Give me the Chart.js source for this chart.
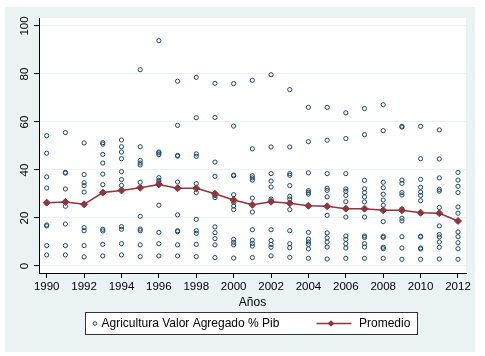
<!DOCTYPE html>
<html><head><meta charset="utf-8">
<script src="https://cdn.jsdelivr.net/npm/chart.js@4/dist/chart.umd.min.js"></script>
<style>html,body{margin:0;padding:0;background:#fff}canvas{display:block}</style>
</head><body>
<canvas id="c" width="485" height="356"></canvas>
<script>
const years = [1990,1991,1992,1993,1994,1995,1996,1997,1998,1999,2000,2001,2002,2003,2004,2005,2006,2007,2008,2009,2010,2011,2012];
const agricultura = [
  [54.3, 47.0, 37.1, 32.5, 17.1, 16.7, 8.5, 4.6],
  [55.6, 39.0, 38.7, 32.1, 24.9, 17.5, 8.5, 4.6],
  [51.3, 38.1, 34.7, 33.5, 30.8, 16.0, 14.7, 8.5, 3.8],
  [51.4, 50.8, 46.5, 42.9, 38.3, 33.9, 15.3, 14.6, 9.0, 4.2],
  [52.5, 49.7, 47.5, 44.7, 39.3, 36.0, 33.6, 16.4, 15.3, 9.3, 4.6],
  [81.8, 49.7, 44.0, 42.9, 42.1, 34.9, 20.7, 15.4, 14.7, 8.8, 3.9],
  [93.9, 47.5, 47.1, 46.4, 36.8, 35.7, 35.0, 25.3, 14.0, 9.3, 4.2],
  [77.0, 58.6, 46.1, 45.8, 35.0, 21.3, 14.7, 14.3, 8.8, 4.2],
  [78.6, 61.8, 46.7, 45.7, 34.3, 30.6, 19.4, 14.7, 13.6, 9.0, 3.9],
  [76.1, 61.9, 43.3, 37.4, 29.3, 28.5, 16.3, 13.9, 11.4, 8.8, 3.5],
  [76.0, 58.3, 37.9, 37.6, 29.7, 26.5, 25.0, 23.5, 11.1, 9.9, 8.8, 3.3],
  [77.4, 48.8, 37.6, 36.7, 35.8, 28.3, 22.5, 15.1, 10.8, 9.4, 8.3, 3.5],
  [79.7, 49.6, 38.5, 35.4, 32.9, 27.9, 26.7, 15.1, 10.6, 9.0, 7.8, 4.2],
  [73.5, 49.6, 38.5, 37.8, 33.5, 29.0, 27.9, 23.5, 14.7, 9.3, 7.6, 3.6],
  [66.1, 51.8, 38.8, 31.4, 30.7, 30.0, 25.1, 14.0, 11.2, 10.0, 9.0, 7.1, 3.2],
  [66.1, 52.4, 38.5, 32.4, 31.5, 28.8, 21.1, 13.8, 11.7, 10.0, 7.9, 2.9],
  [63.8, 53.1, 38.5, 32.1, 31.1, 29.4, 26.8, 20.4, 12.5, 11.1, 9.3, 7.5, 3.2],
  [65.6, 54.7, 35.7, 32.2, 30.6, 28.8, 26.7, 20.4, 12.5, 11.9, 9.3, 7.9, 3.2],
  [67.2, 56.4, 34.9, 32.6, 29.9, 27.5, 25.3, 18.5, 12.4, 11.9, 7.8, 7.2, 3.2],
  [58.2, 57.9, 35.8, 34.4, 30.6, 29.6, 23.8, 19.9, 18.8, 12.2, 7.5, 2.8],
  [58.2, 44.7, 36.1, 32.8, 30.8, 29.4, 27.2, 22.2, 12.4, 12.1, 7.5, 7.1, 2.8],
  [56.7, 44.6, 36.7, 31.9, 31.2, 24.4, 16.7, 13.1, 12.1, 10.0, 7.8, 2.9],
  [39.0, 35.8, 33.2, 30.6, 24.6, 22.0, 14.2, 12.2, 9.7, 7.2, 2.8]
];
const promedio = [26.4, 26.7, 25.7, 30.6, 31.5, 32.6, 34.0, 32.4, 32.4, 30.1, 27.5, 25.5, 26.8, 26.1, 25.1, 24.9, 23.9, 23.9, 23.2, 23.2, 22.2, 22.0, 18.75];
const xTicks = [1990,1992,1994,1996,1998,2000,2002,2004,2006,2008,2010,2012];
const yTicks = [0,20,40,60,80,100];
const xTitle = 'Años';
const legendLabels = ['Agricultura Valor Agregado % Pib', 'Promedio'];

const scatterPoints = [];
years.forEach((yr, i) => agricultura[i].forEach(v => scatterPoints.push({x: yr, y: v})));
const linePoints = years.map((yr, i) => ({x: yr, y: promedio[i]}));

const NAVY = '#1a476f', MAROON = '#90353b', BG = '#eaf2f3';
const FONT = '"Liberation Sans", Arial, Helvetica, sans-serif';

const stataPlugin = {
  id: 'stata',
  beforeDraw(chart) {
    const ctx = chart.ctx, a = chart.chartArea;
    ctx.save();
    ctx.fillStyle = '#fff';
    ctx.fillRect(0, 0, chart.width, chart.height);
    ctx.fillStyle = BG;
    ctx.fillRect(5, 7, 470, 345);
    ctx.fillStyle = '#fff';
    ctx.fillRect(a.left, a.top, a.right - a.left, a.bottom - a.top);
    ctx.restore();
  },
  afterDraw(chart) {
    const ctx = chart.ctx, ys = chart.scales.y;
    ctx.save();
    ctx.fillStyle = '#000';
    ctx.font = '11.5px ' + FONT;
    ctx.textAlign = 'center';
    ctx.textBaseline = 'alphabetic';
    yTicks.forEach(v => {
      const py = ys.getPixelForValue(v);
      ctx.save();
      ctx.translate(28, py);
      ctx.rotate(-Math.PI / 2);
      ctx.fillText(String(v), 0, 0);
      ctx.restore();
    });
    // legend
    ctx.fillStyle = '#fff';
    ctx.fillRect(85.5, 312.5, 332, 22);
    ctx.strokeStyle = '#333';
    ctx.lineWidth = 1;
    ctx.strokeRect(85.5, 312.5, 332, 22);
    const ly = 323.5;
    ctx.beginPath();
    ctx.arc(95, ly, 1.8, 0, Math.PI * 2);
    ctx.strokeStyle = NAVY; ctx.lineWidth = 1; ctx.stroke();
    ctx.fillStyle = '#000';
    ctx.font = '12px ' + FONT;
    ctx.textAlign = 'left';
    ctx.textBaseline = 'middle';
    ctx.fillText(legendLabels[0], 101.5, ly + 0.5);
    ctx.beginPath();
    ctx.moveTo(316.5, ly); ctx.lineTo(351.5, ly);
    ctx.strokeStyle = MAROON; ctx.lineWidth = 1.3; ctx.stroke();
    ctx.beginPath();
    const dx = 331, r = 3.3;
    ctx.moveTo(dx - r, ly); ctx.lineTo(dx, ly - r); ctx.lineTo(dx + r, ly); ctx.lineTo(dx, ly + r); ctx.closePath();
    ctx.fillStyle = MAROON; ctx.fill();
    ctx.fillStyle = '#000';
    ctx.fillText(legendLabels[1], 359, ly + 0.5);
    ctx.restore();
  }
};

new Chart(document.getElementById('c'), {
  type: 'scatter',
  data: {
    datasets: [
      {type: 'line', label: legendLabels[1], data: linePoints, borderColor: MAROON, backgroundColor: MAROON,
       borderWidth: 1.5, pointStyle: 'rectRot', pointRadius: 3.5, pointBorderWidth: 1, tension: 0, order: 0, fill: false},
      {type: 'scatter', label: legendLabels[0], data: scatterPoints, borderColor: NAVY, backgroundColor: 'rgba(0,0,0,0)',
       pointRadius: 2.1, pointBorderWidth: 1, order: 1}
    ]
  },
  options: {
    responsive: false, animation: false, devicePixelRatio: 1,
    layout: {padding: {left: 0, top: 18, right: 19, bottom: 46}},
    plugins: {legend: {display: false}, tooltip: {enabled: false}},
    scales: {
      x: {
        type: 'linear', min: 1989.588, max: 2012.428,
        afterBuildTicks: s => { s.ticks = xTicks.map(v => ({value: v})); },
        afterFit: s => { s.height = 37; },
        grid: {drawOnChartArea: false, tickLength: 5, tickColor: '#000', tickWidth: 1},
        border: {display: true, color: '#000', width: 1},
        ticks: {font: {family: FONT, size: 11.5}, color: '#000', padding: 2, maxRotation: 0, autoSkip: false, callback: v => String(v)},
        title: {display: true, text: xTitle, font: {family: FONT, size: 12}, color: '#000', padding: {top: 0, bottom: 0}}
      },
      y: {
        type: 'linear', min: -2.917, max: 103.333,
        afterBuildTicks: s => { s.ticks = yTicks.map(v => ({value: v})); },
        afterFit: s => { s.width = 39; },
        grid: {color: BG, lineWidth: 1, tickLength: 5, tickColor: '#000', tickWidth: 1},
        border: {display: true, color: '#000', width: 1},
        ticks: {display: false}
      }
    }
  },
  plugins: [stataPlugin]
});
</script>
</body></html>
